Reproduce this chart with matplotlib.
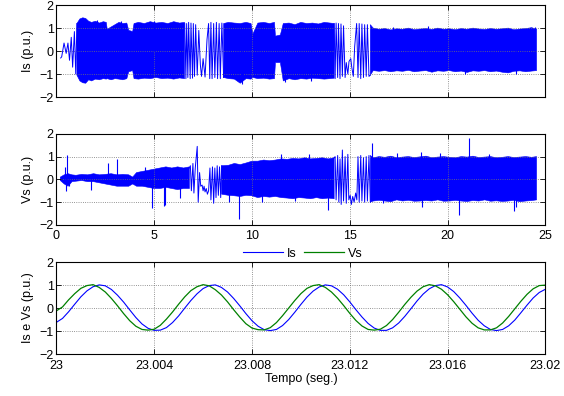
import numpy as np
import matplotlib
matplotlib.use("Agg")
import matplotlib.pyplot as plt

nan = np.nan

# ---- Is (top), dense band envelope; nan splits the segments
is_t = [1.05, 1.2, 1.35, 1.5, 1.65, 1.8, 2.0, 2.2, 2.4, 2.55, 2.6, 2.8, 3.0, 3.2, 3.4, 3.6,
        3.7, 3.9, 3.97, 4.2, 4.5, 4.8, 5.1, 5.4, 5.7, 6.0, 6.3, 6.55, 6.56,
        8.55, 8.8, 9.1, 9.4, 9.7, 9.95, 10.05, 10.3, 10.6, 10.9, 11.15, 11.2, 11.45, 11.6,
        11.9, 12.2, 12.5, 12.8, 13.1, 13.4, 13.7, 14.0, 14.2, 14.21,
        16.05, 16.2, 16.5, 16.8, 17.1, 17.4, 17.7, 18.0, 18.3, 18.6, 18.9, 19.2, 19.5, 19.8,
        20.1, 20.4, 20.7, 21.0, 21.3, 21.6, 21.9, 22.2, 22.5, 22.8, 23.1, 23.4, 23.7, 24.0,
        24.3, 24.55]
is_hi = [1.2, 1.4, 1.45, 1.42, 1.3, 1.25, 1.3, 1.22, 1.28, 1.25, 0.95, 1.05, 1.15, 1.25, 1.2, 1.22,
         0.9, 0.85, 1.2, 1.25, 1.2, 1.28, 1.22, 1.25, 1.2, 1.28, 1.22, 1.25, nan,
         1.2, 1.25, 1.22, 1.2, 1.25, 1.2, 0.75, 1.22, 1.25, 1.2, 1.25, 0.65, 0.7, 1.2,
         1.22, 1.15, 1.25, 1.2, 1.22, 1.18, 1.25, 1.22, 1.2, nan,
         1.15, 1.0, 0.95, 0.98, 0.92, 0.97, 0.95, 1.0, 0.93, 0.96, 0.98, 0.94, 1.0, 0.95,
         0.97, 0.93, 0.98, 0.95, 1.0, 0.96, 0.94, 0.98, 0.95, 0.97, 1.0, 0.93, 0.96, 0.98,
         1.02, 0.95]
is_lo = [-1.05, -1.3, -1.38, -1.4, -1.25, -1.3, -1.22, -1.25, -1.2, -1.22, -1.2, -1.25, -1.2, -1.22, -1.25, -1.2,
         -0.9, -0.85, -1.2, -1.22, -1.18, -1.2, -1.15, -1.2, -1.18, -1.22, -1.17, -1.2, nan,
         -1.15, -1.2, -1.22, -1.4, -1.2, -1.22, -1.15, -1.2, -1.18, -1.22, -1.2, -0.5, -0.5, -1.3,
         -1.2, -1.25, -1.2, -1.22, -1.18, -1.2, -1.22, -1.2, -1.18, nan,
         -1.05, -0.85, -0.88, -0.85, -0.9, -0.86, -0.88, -0.84, -0.9, -0.87, -0.85, -0.92, -0.86, -0.88,
         -0.85, -0.9, -0.87, -0.93, -0.86, -0.88, -0.85, -0.9, -0.87, -0.92, -0.95, -0.88, -0.86, -0.9,
         -0.87, -0.85]

# Is where single oscillations are visible
is_wave_t = [0.22, 0.27, 0.39, 0.5, 0.59, 0.67, 0.76, 0.83, 0.92, 0.99, 1.05, nan,
             6.56, 6.62, 6.66, 6.72, 6.76, 6.84, 6.88, 6.96, 7.0, 7.06, 7.12, 7.2, 7.28, 7.36,
             7.42, 7.5, 7.6, 7.7, 7.78, 7.84, 7.9, 7.96, 8.04, 8.1, 8.18, 8.24, 8.32, 8.38,
             8.46, 8.55, nan,
             14.2, 14.25, 14.3, 14.38, 14.42, 14.5, 14.55, 14.62, 14.68, 14.76, 14.82, 14.9,
             14.96, 15.05, 15.1, 15.18, 15.25, 15.35, 15.42, 15.48, 15.56, 15.62, 15.7, 15.76,
             15.84, 15.9, 15.98, 16.05]
is_wave_v = [-0.3, -0.25, 0.35, -0.1, 0.35, -0.4, 0.6, -0.7, 0.85, -1.0, 1.2, nan,
             1.2, -1.2, 1.2, -1.15, 1.25, -1.2, 1.22, -1.18, 1.2, -1.1, 1.15, -1.05, 0.9, -0.6,
             -1.1, -0.33, -1.13, 0.5, 1.2, -1.2, 1.25, -1.2, 1.2, -1.15, 1.25, -1.2, 1.2, -1.2,
             1.22, -1.15, nan,
             1.2, -1.2, 1.22, -1.15, 1.2, -1.2, 1.18, -1.1, 1.1, -1.15, -0.5, -1.0,
             -0.45, -0.33, -0.7, -1.1, 0.2, 1.2, -1.15, 1.2, -1.2, 1.18, -1.15, 1.15,
             -1.1, 1.15, -1.1, -1.05]

# ragged peaks sticking out of the Is band
is_spike_t = [2.1, 3.3, 5.0, 9.5, 11.7, 13.0, 17.2, 19.0, 20.9, 23.5, 24.45]
is_spike_v = [1.35, 1.3, 1.32, -1.45, -1.35, -1.3, 1.05, 1.08, -1.0, -1.0, 1.05]

# ---- Vs (middle), dense band envelope
vs_t = [0.2, 0.4, 0.6, 0.8, 1.0, 1.3, 1.6, 1.9, 2.2, 2.5, 2.8, 3.1, 3.4, 3.7, 3.9, 4.1,
        4.4, 4.7, 5.0, 5.3, 5.6, 5.9, 6.2, 6.5, 6.8, 6.81,
        8.45, 8.8, 9.1, 9.4, 9.7, 10.0, 10.3, 10.6, 10.9, 11.2, 11.5, 11.8, 12.1, 12.4,
        12.7, 13.0, 13.3, 13.6, 13.9, 14.2, 14.21,
        16.05, 16.2, 16.5, 16.8, 17.1, 17.4, 17.7, 18.0, 18.3, 18.6, 18.9, 19.2, 19.5, 19.8,
        20.1, 20.4, 20.7, 21.0, 21.3, 21.6, 21.9, 22.2, 22.5, 22.8, 23.1, 23.4, 23.7, 24.0,
        24.3, 24.55]
vs_hi = [0.1, 0.2, 0.25, 0.2, 0.18, 0.22, 0.2, 0.25, 0.2, 0.22, 0.25, 0.2, 0.22, 0.2, 0.1, 0.3,
         0.35, 0.4, 0.45, 0.5, 0.55, 0.5, 0.55, 0.5, 0.55, nan,
         0.6, 0.62, 0.7, 0.65, 0.72, 0.8, 0.8, 0.85, 0.82, 0.85, 0.9, 0.88, 0.92, 0.9,
         0.95, 0.9, 0.92, 0.95, 0.9, 0.95, nan,
         1.05, 0.95, 1.0, 0.97, 1.02, 0.95, 0.98, 1.0, 0.96, 0.99, 1.02, 0.95, 0.98, 1.0,
         0.97, 0.95, 1.0, 0.98, 1.02, 0.96, 0.98, 1.0, 0.95, 0.97, 1.0, 0.96, 0.98, 1.0,
         0.97, 1.0]
vs_lo = [-0.05, -0.2, -0.3, -0.1, -0.08, -0.05, -0.1, -0.1, -0.15, -0.2, -0.25, -0.3, -0.3, -0.3, -0.2, -0.3,
         -0.3, -0.35, -0.4, -0.4, -0.35, -0.4, -0.45, -0.4, -0.4, nan,
         -0.65, -0.7, -0.72, -0.75, -0.7, -0.72, -0.8, -0.75, -0.78, -0.75, -0.8, -0.82, -0.85, -0.8,
         -0.82, -0.85, -0.8, -0.85, -0.82, -0.85, nan,
         -1.0, -0.95, -0.92, -0.95, -0.98, -0.9, -0.95, -0.92, -0.96, -0.95, -0.93, -0.95, -0.9, -0.96,
         -0.95, -0.92, -0.95, -0.97, -0.93, -0.95, -0.9, -0.96, -0.94, -0.97, -0.95, -0.92, -0.98, -0.95,
         -0.93, -0.9]

vs_wave_t = [6.8, 6.85, 6.9, 6.98, 7.03, 7.1, 7.2, 7.25, 7.32, 7.38, 7.45, 7.5, 7.55, 7.6,
             7.66, 7.72, 7.78, 7.85, 7.9, 7.98, 8.04, 8.1, 8.16, 8.22, 8.28, 8.34, 8.4, 8.45, nan,
             14.2, 14.25, 14.3, 14.38, 14.44, 14.5, 14.56, 14.62, 14.68, 14.76, 14.82, 14.9, 14.95,
             15.02, 15.08, 15.15, 15.22, 15.3, 15.36, 15.42, 15.48, 15.56, 15.62, 15.7, 15.76,
             15.84, 15.9, 15.98, 16.05]
vs_wave_v = [0.5, 0.6, -0.5, 0.7, -0.6, 0.5, 1.45, -1.0, 0.3, -0.3, -0.25, -0.5, -0.3, -0.55,
             -0.4, -0.65, -0.5, 0.5, -0.9, 0.55, -1.05, 0.5, -0.8, 0.6, -0.7, 0.55, -0.8, 0.6, nan,
             0.95, 1.0, -0.9, 1.05, -1.0, 0.9, -1.1, 1.29, -0.95, 1.0, -1.05, 1.1, -0.9,
             -0.7, -1.1, -0.75, -1.0, -0.6, -0.9, 1.0, -1.0, 1.05, -0.95, 0.95, -1.0,
             1.0, -0.95, 1.05, -1.0]

# isolated spikes in Vs
vs_spike_t = [0.45, 0.52, 0.5, 0.62, 1.75, 2.65, 3.12, 4.55, 4.9, 5.5, 5.55, 6.3, 8.8, 9.36,
              10.5, 11.5, 12.2, 12.9, 13.9, 16.15, 16.7, 17.4, 18.65, 18.7, 19.6, 20.6, 21.1,
              22.1, 23.4, 23.5]
vs_spike_v = [0.55, 1.05, -0.52, -0.3, -0.45, 0.72, 0.88, 0.55, -1.24, -1.15, -1.12, -0.8, -1.0, -1.75,
              -1.0, 1.1, -0.95, 1.1, -1.35, 1.58, -1.05, 1.15, 1.2, -1.2, 1.15, -1.57, 1.83,
              1.1, -1.38, -1.2]

# ---- zoom window 23.00 .. 23.02 s, samples every 0.25 ms
z_t = [23.0 + 0.00025 * k for k in range(81)]
z_is = [-0.62, -0.45, -0.16, 0.17, 0.49, 0.75, 0.93, 1.01, 0.97, 0.81, 0.56, 0.26, -0.08, -0.41,
        -0.69, -0.88, -0.97, -0.96, -0.85, -0.63, -0.34, 0.0, 0.33, 0.62, 0.85, 0.98, 1.01, 0.9,
        0.7, 0.42, 0.1, -0.24, -0.55, -0.79, -0.94, -0.98, -0.93, -0.76, -0.5, -0.18, 0.16,
        0.48, 0.74, 0.92, 1.01, 0.97, 0.82, 0.58, 0.27, -0.07, -0.39, -0.67, -0.87, -0.97,
        -0.97, -0.86, -0.65, -0.36, -0.03, 0.31, 0.61, 0.84, 0.98, 1.02, 0.92, 0.72, 0.44,
        0.12, -0.22, -0.53, -0.77, -0.93, -0.98, -0.93, -0.77, -0.52, -0.2, 0.13, 0.44, 0.68, 0.82]
z_vs = [-0.12, 0.05, 0.36, 0.63, 0.86, 0.98, 1.02, 0.9, 0.7, 0.42, 0.1, -0.24, -0.55, -0.79,
        -0.93, -0.96, -0.92, -0.75, -0.48, -0.17, 0.17, 0.49, 0.76, 0.93, 1.02, 0.97, 0.8,
        0.57, 0.27, -0.07, -0.39, -0.68, -0.87, -0.94, -0.95, -0.85, -0.63, -0.33, 0.0, 0.33,
        0.63, 0.86, 0.98, 1.02, 0.9, 0.7, 0.43, 0.11, -0.23, -0.54, -0.78, -0.93, -0.96, -0.92,
        -0.76, -0.5, -0.18, 0.16, 0.47, 0.74, 0.93, 1.02, 0.97, 0.82, 0.58, 0.28, -0.05, -0.38,
        -0.66, -0.86, -0.95, -0.95, -0.86, -0.65, -0.36, -0.03, 0.3, 0.6, 0.84, 0.98, 1.0]

BLUE = "#0000ff"
GREEN = "#008000"

plt.rcParams["font.family"] = ["Liberation Sans", "DejaVu Sans"]
plt.rcParams["font.size"] = 9


def style_axes(ax):
    ax.set_ylim(-2, 2)
    ax.set_yticks([-2, -1, 0, 1, 2])
    ax.grid(True, linestyle=":", color="0.45", linewidth=0.6)
    ax.tick_params(direction="in", top=True, right=True, length=3.5, width=0.6, pad=2)
    ax.tick_params(axis="x", pad=4)
    for s in ax.spines.values():
        s.set_linewidth(0.8)


fig = plt.figure(figsize=(5.64, 3.96), dpi=100)
ax1 = fig.add_axes([0.100, 0.755, 0.867, 0.232])
ax2 = fig.add_axes([0.100, 0.432, 0.867, 0.230])
ax3 = fig.add_axes([0.100, 0.106, 0.867, 0.232])

# top: Is
ax1.fill_between(is_t, is_lo, is_hi, color=BLUE, linewidth=0.4, edgecolor=BLUE)
ax1.plot(is_wave_t, is_wave_v, color=BLUE, linewidth=0.7)
ax1.vlines(is_spike_t, 0, is_spike_v, color=BLUE, linewidth=0.8)
ax1.set_xlim(0, 25)
ax1.set_xticks([0, 5, 10, 15, 20, 25])
ax1.set_xticklabels([])
ax1.set_ylabel("Is (p.u.)")
style_axes(ax1)

# middle: Vs
ax2.fill_between(vs_t, vs_lo, vs_hi, color=BLUE, linewidth=0.4, edgecolor=BLUE)
ax2.plot(vs_wave_t, vs_wave_v, color=BLUE, linewidth=0.7)
ax2.vlines(vs_spike_t, 0, vs_spike_v, color=BLUE, linewidth=0.8)
ax2.set_xlim(0, 25)
ax2.set_xticks([0, 5, 10, 15, 20, 25])
ax2.set_ylabel("Vs (p.u.)")
style_axes(ax2)

# bottom: zoom on a few cycles
l1, = ax3.plot(z_t, z_is, color=BLUE, linewidth=0.8, label="Is")
l2, = ax3.plot(z_t, z_vs, color=GREEN, linewidth=0.9, label="Vs")
ax3.set_xlim(23.0, 23.02)
ax3.set_xticks([23.0, 23.004, 23.008, 23.012, 23.016, 23.02])
ax3.set_xticklabels(["23", "23.004", "23.008", "23.012", "23.016", "23.02"])
ax3.set_ylabel("Is e Vs (p.u.)")
ax3.set_xlabel("Tempo (seg.)", labelpad=1)
style_axes(ax3)

fig.legend(handles=[l1, l2], loc="center", bbox_to_anchor=(0.537, 0.359), ncol=2,
           frameon=False, handlelength=3.2, handletextpad=0.3, columnspacing=0.6,
           borderpad=0, fontsize=9)

fig.savefig("out.png", dpi=100)
